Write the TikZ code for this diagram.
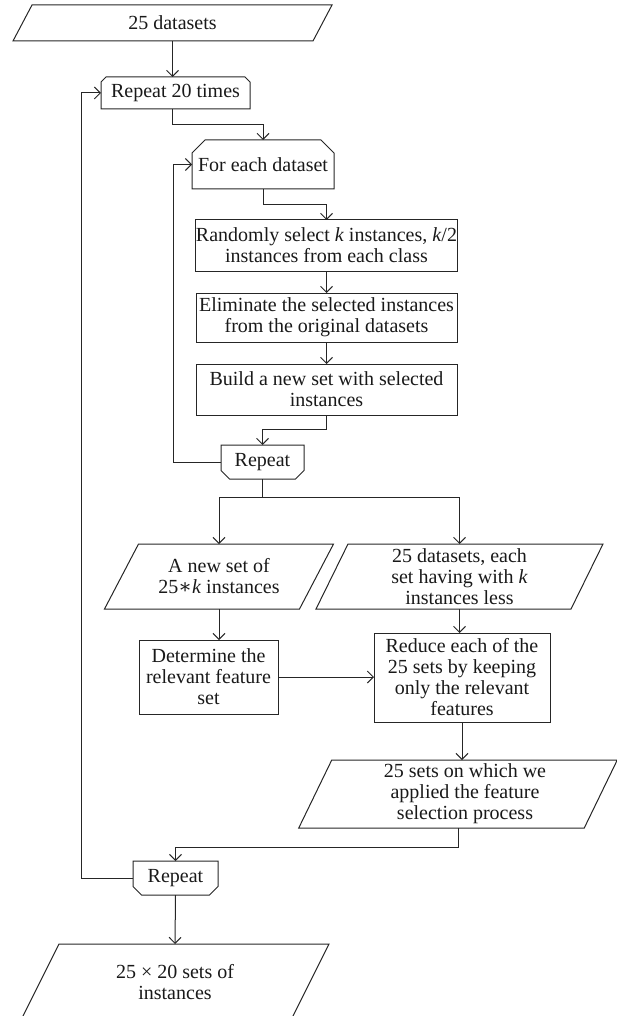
\documentclass[tikz,border=0pt]{standalone}
\usepackage{fontspec}
\setmainfont{Liberation Serif}
\newfontfamily\symfnt{DejaVu Serif}
\usetikzlibrary{arrows.meta,calc}
\newcommand\drawpara[2]{\draw[shp] ($(#1.north west)+(#2,0)$) -- ($(#1.north east)+(#2,0)$) -- ($(#1.south east)+(-#2,0)$) -- ($(#1.south west)+(-#2,0)$) -- cycle;}
\newcommand\chamtop[2]{\draw[shp] (#1.south west) -- ($(#1.north west)+(0,#2)$) -- ($(#1.north west)+(#2,0)$) -- ($(#1.north east)+(-#2,0)$) -- ($(#1.north east)+(0,#2)$) -- (#1.south east) -- cycle;}
\newcommand\chambot[2]{\draw[shp] (#1.north west) -- (#1.north east) -- ($(#1.south east)+(0,-#2)$) -- ($(#1.south east)+(-#2,0)$) -- ($(#1.south west)+(#2,0)$) -- ($(#1.south west)+(0,-#2)$) -- cycle;}
\tikzset{
  shp/.style={draw=black!85, line width=1pt, line join=miter},
  lbl/.style={align=center, inner sep=0pt, outer sep=0pt, font=\fontsize{20}{21}\selectfont, text=black!90},
  boxnode/.style={lbl, shp, rectangle},
  arr/.style={draw=black!85, line width=1pt, -{Straight Barb[length=6pt,width=12pt]}},
  ln/.style={draw=black!85, line width=1pt},
}
\begin{document}
\begin{tikzpicture}[x=1pt, y=-1pt]
\useasboundingbox (0,0) rectangle (617,1016);
\clip (0,0) rectangle (617,1016);
% nodes
\node[lbl, minimum width=300, minimum height=36] (in) at (172.5,23) {25 datasets};
\node[lbl, minimum width=149, minimum height=32] (rep1) at (175.5,93) {Repeat 20 times};
\node[lbl, minimum width=142, minimum height=49] (fe) at (263,164.5) {For each dataset};
\node[boxnode, minimum width=261, minimum height=51] (r1) at (326.5,245.5) {Randomly select \textit{k} instances, \textit{k}/2\\instances from each class};
\node[boxnode, minimum width=261, minimum height=49] (r2) at (326.5,317.5) {Eliminate the selected instances\\from the original datasets};
\node[boxnode, minimum width=261, minimum height=51] (r3) at (326.5,389.5) {Build a new set with selected\\instances};
\node[lbl, minimum width=83, minimum height=34] (rp2) at (262.5,462) {Repeat};
\node[lbl, minimum width=195, minimum height=65] (p1) at (219,576.5) {A new set of\\25{\symfnt ∗}\textit{k} instances};
\node[lbl, minimum width=255, minimum height=65] (p2) at (459.5,576.5) {25 datasets, each\\set having with \textit{k}\\instances less};
\node[boxnode, minimum width=139, minimum height=74] (d) at (208.5,677) {Determine the\\relevant feature\\set};
\node[boxnode, minimum width=176, minimum height=89] (red) at (462,677.5) {Reduce each of the\\25 sets by keeping\\only the relevant\\features};
\node[lbl, minimum width=285.5, minimum height=68] (p3) at (458,794) {\hspace*{14pt}25 sets on which we\\\hspace*{14pt}applied the feature\\\hspace*{14pt}selection process};
\node[lbl, minimum width=85, minimum height=34] (rp3) at (175.5,878) {Repeat};
\node[lbl, minimum width=270, minimum height=76] (out) at (175,982) {25 × 20 sets of\\instances};
% outlines
\drawpara{in}{9.5}
\chamtop{rep1}{5}
\chamtop{fe}{13}
\chambot{rp2}{8.5}
\drawpara{p1}{17}
\drawpara{p2}{16}
\drawpara{p3}{16.5}
\chambot{rp3}{8.5}
\drawpara{out}{19}
% connectors
\draw[arr] (in.south) -- (in.south |- rep1.north);
\draw[arr] (in.south |- rep1.south) -- ++(0,16) -| (fe.north);
\draw[arr] (fe.south) -- ++(0,16) -| (r1.north);
\draw[arr] (r1.south) -- (r2.north);
\draw[arr] (r2.south) -- (r3.north);
\draw[arr] (r3.south) -- ++(0,14) -| (rp2.north);
\draw[arr] (rp2.west) -- ++(-48,0) |- (fe.west);
\draw[ln] (rp2.south) -- ++(0,18) coordinate (sp);
\draw[arr] (sp) -| (p1.north);
\draw[arr] (sp) -| (p2.north);
\draw[arr] (p1.south) -- (p1.south |- d.north);
\draw[arr] (p2.south) -- (p2.south |- red.north);
\draw[arr] (d.east) -- (d.east -| red.west);
\draw[arr] (red.south) -- (red.south |- p3.north);
\draw[arr] (p3.south) -- ++(0,19) -| (rp3.north);
\draw[arr] (rp3.west) -- ++(-52,0) |- (rep1.west);
\draw[arr] (rp3.south) -- (out.north);
\end{tikzpicture}
\end{document}
